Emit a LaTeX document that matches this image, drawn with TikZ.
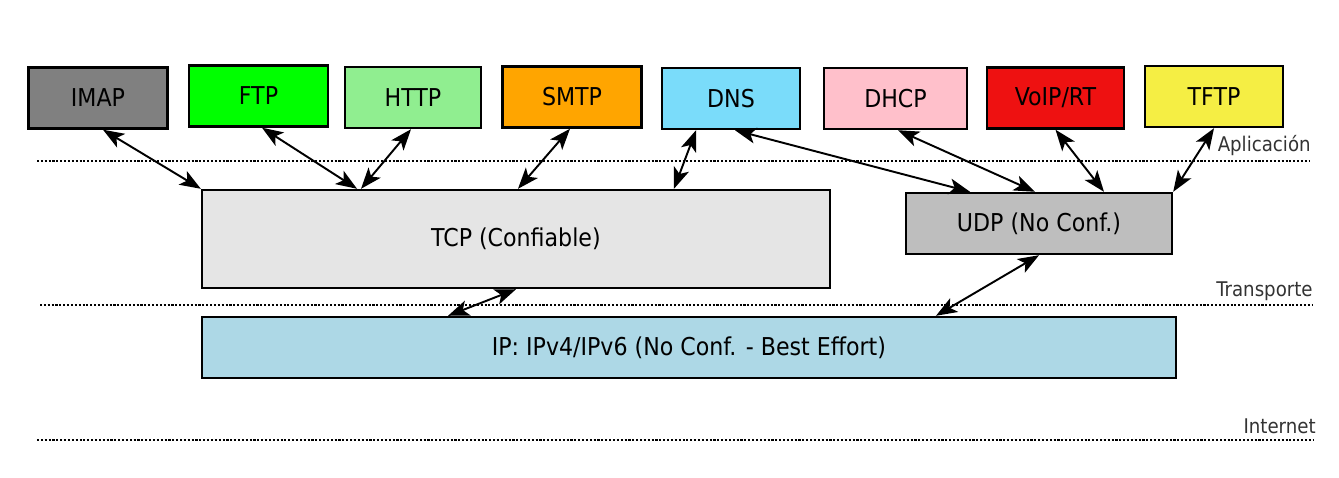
\documentclass[tikz,border=0pt]{standalone}
\usepackage{fontspec}
\setmainfont{DejaVu Sans Condensed}
\usepackage{tikz}
\usetikzlibrary{arrows.meta}

\begin{document}
\begin{tikzpicture}[x=0.02cm,y=-0.02cm,font=\fontsize{14}{16}\selectfont,
  proto/.style={shape=rectangle,draw,line width=1.4pt,text centered,minimum width=2.78cm,minimum height=1.22cm},
  capa/.style={shape=rectangle,draw,line width=1.4pt,text centered},
  flecha/.style={<->,>={Stealth[length=12pt,width=9pt,inset=3pt]},line width=1.1pt},
  nivel/.style={densely dotted,line width=1.2pt},
  etiqueta/.style={anchor=east,inner sep=0pt,font=\fontsize{11.5}{13}\selectfont,text=black!80}]
\useasboundingbox (0,0) rectangle (1339,477);
% protocolos de aplicacion
\node(imap)[proto,fill={rgb,255:red,128;green,128;blue,128}] at (98,98){IMAP};
\node(ftp)[proto,fill={rgb,255:red,0;green,255;blue,0}] at (258.5,96){FTP};
\node(http)[proto,fill={rgb,255:red,144;green,238;blue,144},minimum width=2.72cm] at (413,97.5){HTTP};
\node(smtp)[proto,fill={rgb,255:red,255;green,165;blue,0}] at (572,97){SMTP};
\node(dns)[proto,fill={rgb,255:red,122;green,220;blue,250},minimum width=2.76cm] at (731,98.5){DNS};
\node(dhcp)[proto,fill={rgb,255:red,255;green,192;blue,203},minimum width=2.86cm] at (895.5,98.5){DHCP};
\node(voip)[proto,fill={rgb,255:red,238;green,17;blue,17},minimum width=2.74cm] at (1055.5,98){VoIP/RT};
\node(tftp)[proto,fill={rgb,255:red,245;green,238;blue,68},minimum width=2.76cm] at (1214,96.5){TFTP};
% transporte e internet
\node(tcp)[capa,fill={rgb,255:red,229;green,229;blue,229},minimum width=12.56cm,minimum height=1.96cm] at (516,239){TCP (Confiable)};
\node(udp)[capa,fill={rgb,255:red,190;green,190;blue,190},minimum width=5.32cm,minimum height=1.22cm] at (1039,223.5){UDP (No Conf.)};
\node(ip)[capa,fill={rgb,255:red,173;green,216;blue,230},minimum width=19.48cm,minimum height=1.22cm] at (689,347.5){IP: IPv4/IPv6 (No Conf. - Best Effort)};
% niveles
\draw[nivel] (37,161)--(1310,161);
\draw[nivel] (40,305)--(1312,305);
\draw[nivel] (37,440)--(1314,440);
\node(aplicacion)[etiqueta] at (1311,146){Aplicación};
\node(transporte)[etiqueta] at (1313,291){Transporte};
\node(internet)[etiqueta] at (1316,426){Internet};
% conexiones
\draw[flecha] ([xshift=0.1cm]imap.south)--(tcp.north west);
\draw[flecha] ([xshift=0.07cm]ftp.south)--([xshift=-3.18cm]tcp.north);
\draw[flecha] ([xshift=-0.04cm]http.south)--([xshift=-3.1cm]tcp.north);
\draw[flecha] ([xshift=-0.04cm]smtp.south)--([xshift=0.04cm]tcp.north);
\draw[flecha] ([xshift=-0.7cm]dns.south)--([xshift=3.16cm]tcp.north);
\draw[flecha] ([xshift=0.08cm]dns.south)--([xshift=-1.38cm]udp.north);
\draw[flecha] ([xshift=0.05cm]dhcp.south)--([xshift=-0.08cm]udp.north);
\draw[flecha] (voip.south)--([xshift=1.3cm]udp.north);
\draw[flecha] (tftp.south)--(udp.north east);
\draw[flecha] (tcp.south)--([xshift=-4.82cm]ip.north);
\draw[flecha] (udp.south)--([xshift=4.94cm]ip.north);
\end{tikzpicture}
\end{document}
